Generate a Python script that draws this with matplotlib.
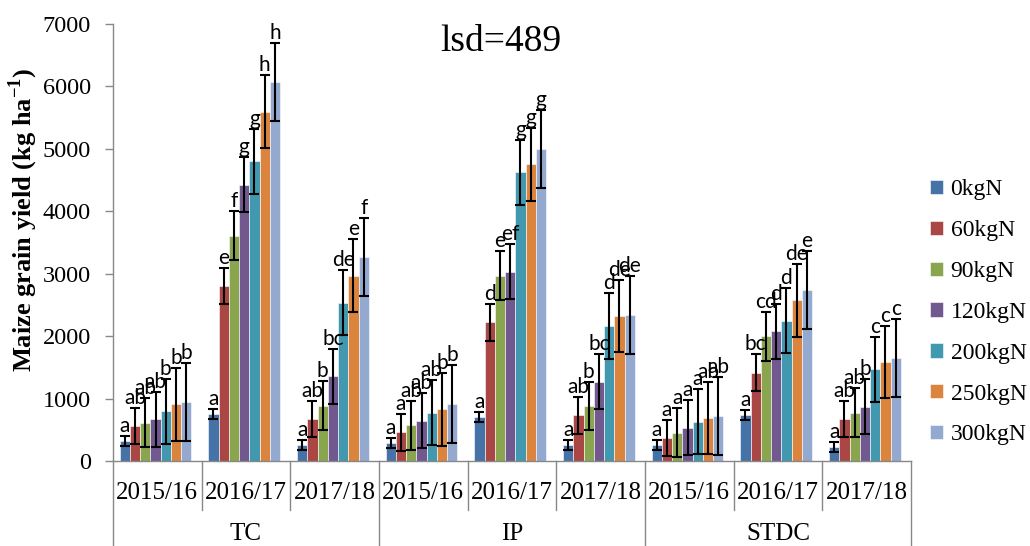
import matplotlib
matplotlib.use("Agg")
import matplotlib.pyplot as plt
import numpy as np

plt.rcParams['font.family'] = ['Liberation Serif', 'DejaVu Serif']
plt.rcParams['mathtext.fontset'] = 'custom'
plt.rcParams['mathtext.rm'] = 'Liberation Serif:bold'
plt.rcParams['mathtext.bf'] = 'Liberation Serif:bold'

systems = ['TC', 'IP', 'STDC']
years = ['2015/16', '2016/17', '2017/18']
series = ['0kgN', '60kgN', '90kgN', '120kgN', '200kgN', '250kgN', '300kgN']

# group order: TC15, TC16, TC17, IP15, IP16, IP17, STDC15, STDC16, STDC17
y_0 = [324, 746, 250, 283, 703, 250, 250, 735, 218]
y_60 = [564, 2800, 671, 458, 2220, 730, 367, 1417, 676]
y_90 = [612, 3610, 884, 570, 2971, 879, 453, 1997, 772]
y_120 = [666, 4425, 1360, 644, 3030, 1273, 532, 2077, 868]
y_200 = [799, 4803, 2535, 772, 4622, 2162, 628, 2247, 1470]
y_250 = [906, 5596, 2971, 825, 4750, 2327, 692, 2572, 1587]
y_300 = [938, 6070, 3264, 910, 4995, 2337, 719, 2743, 1657]
values = [y_0, y_60, y_90, y_120, y_200, y_250, y_300]

err_bars = [80, 290, 390, 440, 522, 580, 625]

lab_0 = ['a', 'a', 'a', 'a', 'a', 'a', 'a', 'a', 'a']
lab_60 = ['ab', 'e', 'ab', 'a', 'd', 'ab', 'a', 'bc', 'ab']
lab_90 = ['ab', 'f', 'b', 'ab', 'e', 'b', 'a', 'cd', 'ab']
lab_120 = ['ab', 'g', 'bc', 'ab', 'ef', 'bc', 'a', 'd', 'b']
lab_200 = ['b', 'g', 'de', 'ab', 'g', 'd', 'a', 'd', 'c']
lab_250 = ['b', 'h', 'e', 'b', 'g', 'de', 'ab', 'de', 'c']
lab_300 = ['b', 'h', 'f', 'b', 'g', 'de', 'ab', 'e', 'c']
letters = [lab_0, lab_60, lab_90, lab_120, lab_200, lab_250, lab_300]

colors = ['#4572A7', '#AA4643', '#89A54E', '#71588F', '#4198AF', '#DB843D', '#93A9CF']

fig = plt.figure(figsize=(10.30, 5.46), dpi=100)
ax = fig.add_axes([113/1030, 85/546, (911-113)/1030, (461-24)/546])

n_groups = len(y_0)
x = np.arange(n_groups)
w = 0.1156
for i, (name, vals) in enumerate(zip(series, values)):
    xs = x + (i - 3) * w - 0.02
    ax.bar(xs, vals, width=w, color=colors[i], edgecolor='white', linewidth=0.4,
           label=name, zorder=2)
    ax.errorbar(xs, vals, yerr=err_bars[i], fmt='none', ecolor='black',
                elinewidth=1.5, capsize=3.5, capthick=1.5, zorder=3)
    for xi, v, t in zip(xs, vals, letters[i]):
        ax.annotate(t, (xi, v + err_bars[i]), xytext=(0, 0), textcoords='offset points',
                    ha='center', va='bottom', fontsize=15, family=['Lato', 'DejaVu Sans'],
                    zorder=4)

ax.set_xlim(-0.5, n_groups - 0.5)
ax.set_ylim(0, 7000)
ax.set_yticks(np.arange(0, 7001, 1000))
ax.tick_params(axis='y', labelsize=17.5, direction='out', length=6, color='#888888', width=1,
               pad=10)
ax.set_xticks([])
for s in ['top', 'right']:
    ax.spines[s].set_visible(False)
ax.spines['left'].set_color('#888888')
ax.spines['bottom'].set_color('#888888')
ax.spines['left'].set_linewidth(1)
ax.spines['bottom'].set_linewidth(1)

trans = ax.get_xaxis_transform()
for g in range(n_groups):
    ax.text(g, -0.073, years[g % 3], transform=trans, ha='center', va='center', fontsize=18)
for k, s in enumerate(systems):
    ax.text(3 * k + 1, -0.168, s, transform=trans, ha='center', va='center', fontsize=18)
for b in range(n_groups + 1):
    xb = b - 0.5
    y_end = -85/437 if b % 3 == 0 else -0.112
    ax.plot([xb, xb], [0, y_end], transform=trans, color='#888888', lw=1, clip_on=False)

fig.text(23/1030, 1 - 220/546, r'Maize grain yield (kg ha$^{-1}$)', rotation=90,
         ha='center', va='center', fontsize=19, fontweight='bold')

fig.text(501/1030, 1 - 42/546, 'lsd=489', ha='center', va='center', fontsize=27)

fig.legend(loc='upper left', bbox_to_anchor=(921/1030, 1 - 170/546), frameon=False,
           fontsize=17, handlelength=0.55, handleheight=0.55, handletextpad=0.3,
           labelspacing=0.84, borderpad=0.4, borderaxespad=0)

fig.savefig('out.png', dpi=100)
